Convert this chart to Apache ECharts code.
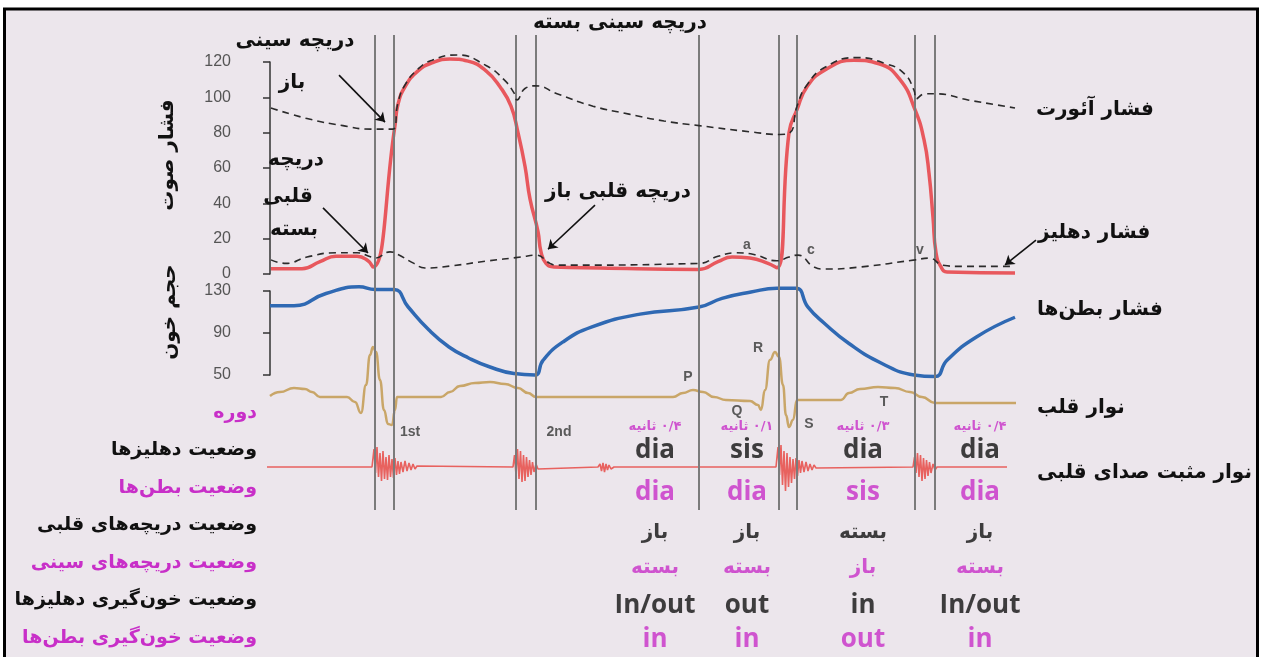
<!DOCTYPE html>
<html><head><meta charset="utf-8">
<script src="https://cdn.jsdelivr.net/npm/echarts@6/dist/echarts.min.js"></script>
<style>html,body{margin:0;padding:0;background:#fff}#c{width:1261px;height:657px;direction:rtl}</style>
</head><body><div id="c"></div>
<script>
// time axis in ms (arbitrary origin), pressure in mmHg, volume in ml
const valveLines = [210, 248, 492, 532, 858, 1018, 1054, 1290, 1330];

const lvPressure = [[2,3],[64,3],[100,7],[132,10],[174,10],[196,7.5],[206,4],[250,84],[256,96],[270,106],[296,115],[324,119.5],[360,121.7],[396,120.5],[432,115],[460,106],[482,95],[496,80],[510,61],[520,42.5],[536,24],[542,12.5],[552,6],[568,4],[660,3.4],[858,2.6],[896,7],[924,9.6],[960,9],[996,6],[1014,3.5],[1038,80],[1054,93],[1074,106],[1110,115.5],[1168,121],[1218,119],[1260,110],[1290,93],[1308,76],[1318,57],[1326,32],[1332,12],[1342,4],[1354,1.2],[1490,0.6]];

const aorticPressure = [[2,94],[74,88],[146,84],[202,82],[246,82],[256,97],[270,107],[296,116],[324,121],[374,124],[432,118],[468,110],[488,102.5],[494,98.5],[510,105],[532,106.5],[574,102],[646,95],[718,90.5],[788,86.6],[858,84],[960,80.5],[1020,79],[1040,80],[1054,95],[1074,107],[1110,117],[1174,122.5],[1232,119],[1268,113.6],[1288,104],[1292,99],[1310,102],[1332,102],[1396,98.5],[1490,94]];

const atrialPressure = [[2,8],[32,6],[74,9.6],[132,12],[174,12],[202,9.6],[210,9],[240,12.5],[256,11],[288,6],[310,3.4],[360,4.5],[432,7.3],[502,9.6],[532,10.7],[560,6],[574,5],[858,6],[896,10],[932,12],[968,11],[1014,7.5],[1038,9.6],[1056,10.7],[1088,4],[1110,2.8],[1182,4],[1290,8],[1318,9],[1346,5],[1380,4.3],[1490,4.3]];

const ventricularVolume = [[0,116],[48,116],[112,127.6],[178,134],[210,131.5],[248,131.5],[276,115],[318,92.8],[358,76.7],[398,66],[440,57.6],[488,51.4],[530,50],[546,64],[586,81.5],[644,95.8],[740,108],[858,114.7],[904,123],[962,129],[1014,132.6],[1052,132.6],[1076,114.6],[1108,99.5],[1158,80],[1224,61],[1288,50],[1330,48.5],[1354,64],[1412,86],[1490,105]];

const ecgTrace = [[0,0.02],[20,0.1],[48,0.18],[70,0.16],[84,0.1],[100,0],[154,0],[170,-0.1],[182,-0.32],[192,0.24],[200,0.84],[206,1.0],[212,0.9],[220,0.34],[228,-0.26],[236,-0.54],[244,-0.56],[250,-0.26],[254,0],[342,0],[360,0.1],[380,0.22],[410,0.28],[440,0.3],[470,0.26],[496,0.18],[516,0.08],[532,0],[806,0],[826,0.08],[846,0.14],[866,0.1],[888,0],[912,-0.06],[960,-0.08],[976,-0.16],[982,-0.26],[990,0.14],[1000,0.74],[1010,0.9],[1018,0.8],[1026,0.24],[1032,-0.36],[1038,-0.6],[1046,-0.46],[1054,-0.06],[1142,-0.06],[1158,0.08],[1180,0.16],[1216,0.2],[1250,0.18],[1280,0.1],[1304,0],[1330,-0.12],[1492,-0.12]];

const soundStart = [-6, 0];
const soundEnd = [1474, 0];
const s1First = [[204,0],[208,18],[211,-6],[214,20],[217,-10],[220,14],[223,-14],[226,16],[229,-12],[232,10],[235,-13],[238,12],[241,-10],[244,8],[247,-11],[250,9],[253,-8],[256,6],[259,-7],[262,5],[266,-5],[270,6],[274,-4],[278,4],[282,-3],[286,3],[290,-2],[294,1],[298,0]];
const s2First = [[486,0],[489,12],[492,-8],[495,18],[498,-12],[501,16],[504,-15],[507,12],[510,-14],[513,10],[516,-10],[519,7],[522,-8],[525,5],[528,-5],[532,3],[536,-2],[540,0]];
const s3Small = [[656,0],[660,3],[663,-4],[666,4],[669,-5],[672,3],[675,-3],[678,2],[682,-2],[688,0]];
const s1Second = [[1012,0],[1016,20],[1019,-8],[1022,22],[1025,-18],[1028,16],[1031,-24],[1034,14],[1037,-20],[1040,10],[1043,-16],[1046,8],[1049,-12],[1052,9],[1055,-9],[1058,7],[1061,-6],[1064,6],[1068,-5],[1072,5],[1076,-4],[1080,3],[1084,-3],[1088,2],[1092,-1],[1096,0]];
const s2Second = [[1286,0],[1289,10],[1292,-6],[1295,14],[1298,-10],[1301,12],[1304,-14],[1307,9],[1310,-12],[1313,7],[1316,-9],[1319,5],[1322,-6],[1326,3],[1330,-3],[1334,0]];

const rowNames = ['دوره','وضعیت دهلیزها','وضعیت بطن\u200cها','وضعیت دریچه\u200cهای قلبی','وضعیت دریچه\u200cهای سینی','وضعیت خون\u200cگیری دهلیزها','وضعیت خون\u200cگیری بطن\u200cها'];
const phaseTimes = [770, 954, 1186, 1420];
const phaseDuration = ['۰/۴ ثانیه','۰/۱ ثانیه','۰/۳ ثانیه','۰/۴ ثانیه'];
const atriaState = ['dia','sis','dia','dia'];
const ventricleState = ['dia','dia','sis','dia'];
const avValves = ['باز','باز','بسته','باز'];
const slValves = ['بسته','بسته','باز','بسته'];
const atriaFilling = ['In/out','out','in','In/out'];
const ventricleFilling = ['in','in','out','in'];

// arrows [from, to] in (time, mmHg)
const arrows = [[[138,112.6],[230,86]],[[614,128.5],[510,107]],[[106,37.4],[196,11.9]],[[650,39],[556,14]],[[1532,19.2],[1470,5.1]]];

const MAG = '#c82fc8', INK = '#111111';
const rowColors = [MAG, INK, MAG, INK, MAG, INK, MAG];
const rowOffsets = [14, 0, 5, 7, 5, 5, 2];
const tableRows = [phaseDuration, atriaState, ventricleState, avValves, slValves, atriaFilling, ventricleFilling];

const heartSound = [soundStart, ...s1First, ...s2First, ...s3Small, ...s1Second, ...s2Second, soundEnd];

const xBase = {type:'value', min:-50, max:1550, show:false};
const hiddenY = (min,max,g)=>({type:'value', gridIndex:g, min, max, show:false});
const fa = '"DejaVu Sans", "Noto Sans", sans-serif';

const tableData = [];
tableRows.forEach((row, r) => row.forEach((txt, c) => {
  const latin = /[A-Za-z]/.test(txt);
  tableData.push({
    value: [phaseTimes[c], r],
    label: {
      formatter: txt,
      color: rowColors[r],
      fontSize: r === 0 ? 13 : (latin ? 26 : 20),
      fontWeight: 'bold',
      fontFamily: latin ? '"Open Sans", sans-serif' : fa,
      offset: [0, rowOffsets[r]]
    }
  });
}));

const pAxisCommon = {
  axisLine:{show:true, lineStyle:{color:'#333', width:1.5}},
  axisTick:{show:true, inside:false, length:7, lineStyle:{color:'#333', width:1.5}},
  axisLabel:{color:'#555', fontSize:16, margin:14, fontFamily:'"Liberation Sans", Arial, sans-serif'},
  splitLine:{show:false}
};

const chart = echarts.init(document.getElementById('c'), null, {renderer:'canvas'});
const endLbl = (text, distance, dy) => ({show:true, formatter:text, distance, offset:[0,dy], color:INK, fontSize:20, fontWeight:'bold', fontFamily:fa, align:'left'});
const smoothCurve = {showSymbol:false, smooth:0.5, clip:false};

const option = {
  backgroundColor:'#ffffff',
  animation:false,
  grid:[
    {left:245, width:800, top:35, height:475},
    {left:245, width:800, top:62, height:212},
    {left:245, width:800, top:291, height:84},
    {left:245, width:800, top:337, height:100},
    {left:245, width:800, top:437, height:60},
    {left:265, width:780, top:394.25, height:262.5}
  ],
  xAxis:[
    {...xBase, gridIndex:0},{...xBase, gridIndex:1},{...xBase, gridIndex:2},{...xBase, gridIndex:3},{...xBase, gridIndex:4},
    {type:'value', gridIndex:5, min:-10, max:1550, show:false}
  ],
  yAxis:[
    hiddenY(0,1,0),
    {type:'value', gridIndex:1, min:0, max:120, interval:20, ...pAxisCommon},
    {type:'value', gridIndex:2, min:50, max:130, interval:40, ...pAxisCommon},
    hiddenY(-0.8,1.2,3),
    hiddenY(-30,30,4),
    {type:'category', gridIndex:5, data:rowNames, inverse:true, axisLine:{show:false}, axisTick:{show:false}, splitLine:{show:false},
     axisLabel:{margin:8, fontSize:19, fontWeight:'bold', fontFamily:fa, color:(v,i)=>rowColors[i]}}
  ],
  graphic:[
    {type:'rect', z:-100, silent:true, shape:{x:4.5, y:9, width:1253, height:660}, style:{fill:'#ece6ec', stroke:'#000', lineWidth:3}},
    ...[
      ['فشار صوت',168,155,true],['حجم خون',170,312,true],
      ['دریچه سینی',295,41],['باز',292,83],['دریچه سینی بسته',620,23],
      ['دریچه',296,160],['قلبی',288,197],['بسته',294,230],['دریچه قلبی باز',618,192]
    ].map(([t,x,y,rot])=>({type:'text', x, y, z:100, rotation: rot?Math.PI/2:0, silent:true,
      style:{text:t, fill:INK, font:'bold 20px '+fa, align:'center', verticalAlign:'middle', textAlign:'center', textVerticalAlign:'middle'}})),
    ...[
      ['a',747,245],['c',811,250],['v',920,250],['P',688,377],['Q',737,411],['R',758,348],['S',809,424],['T',884,402],['1st',410,432],['2nd',559,432]
    ].map(([t,x,y])=>({type:'text', x, y, z:100, silent:true,
      style:{text:t, fill:'#5a5a5a', font:'bold 14px "Liberation Sans", Arial, sans-serif', align:'center', verticalAlign:'middle', textAlign:'center', textVerticalAlign:'middle'}}))
  ],
  series:[
    {type:'line', xAxisIndex:0, yAxisIndex:0, data:[[-50,0]], showSymbol:false, lineStyle:{opacity:0}, z:1, silent:true,
     markLine:{silent:true, symbol:'none', label:{show:false}, lineStyle:{color:'#7b7b7b', width:2, type:'solid'}, data:valveLines.map(t=>({xAxis:t}))}},
    {name:'lv', type:'line', xAxisIndex:1, yAxisIndex:1, data:lvPressure, ...smoothCurve, z:4,
     lineStyle:{color:'#e8585d', width:3.5}},
    {name:'aorta', type:'line', xAxisIndex:1, yAxisIndex:1, data:aorticPressure, ...smoothCurve, z:5,
     lineStyle:{color:'#2b2b2b', width:1.6, type:[7,5]}, endLabel:endLbl('فشار آئورت',21,2),
     markLine:{silent:true, symbol:['none','arrow'], symbolSize:9, label:{show:false}, lineStyle:{color:'#111', width:1.6, type:'solid'},
       data:arrows.map(([a,b])=>[{coord:a},{coord:b}])}},
    {name:'atrium', type:'line', xAxisIndex:1, yAxisIndex:1, data:atrialPressure, ...smoothCurve, z:5,
     lineStyle:{color:'#2b2b2b', width:1.6, type:[7,5]}, endLabel:endLbl('فشار دهلیز',23,-34)},
    {name:'volume', type:'line', xAxisIndex:2, yAxisIndex:2, data:ventricularVolume, ...smoothCurve, z:4,
     lineStyle:{color:'#2f69b3', width:3.5}, endLabel:endLbl('فشار بطن\u200cها',22,-7)},
    {name:'ecg', type:'line', xAxisIndex:3, yAxisIndex:3, data:ecgTrace, showSymbol:false, smooth:0.5, smoothMonotone:'x', clip:false, z:4,
     lineStyle:{color:'#c9a668', width:2.5}, endLabel:endLbl('نوار قلب',21,5)},
    {name:'pcg', type:'line', xAxisIndex:4, yAxisIndex:4, data:heartSound, showSymbol:false, smooth:false, clip:false, z:4,
     lineStyle:{color:'#e8625f', width:1.6}, endLabel:endLbl('نوار مثبت صدای قلبی',30,6)},
    {type:'scatter', xAxisIndex:5, yAxisIndex:5, data:tableData, symbolSize:1, itemStyle:{color:'rgba(0,0,0,0)'}, silent:true, z:6,
     label:{show:true, position:'inside'}}
  ]
};
chart.setOption(option);
</script></body></html>
